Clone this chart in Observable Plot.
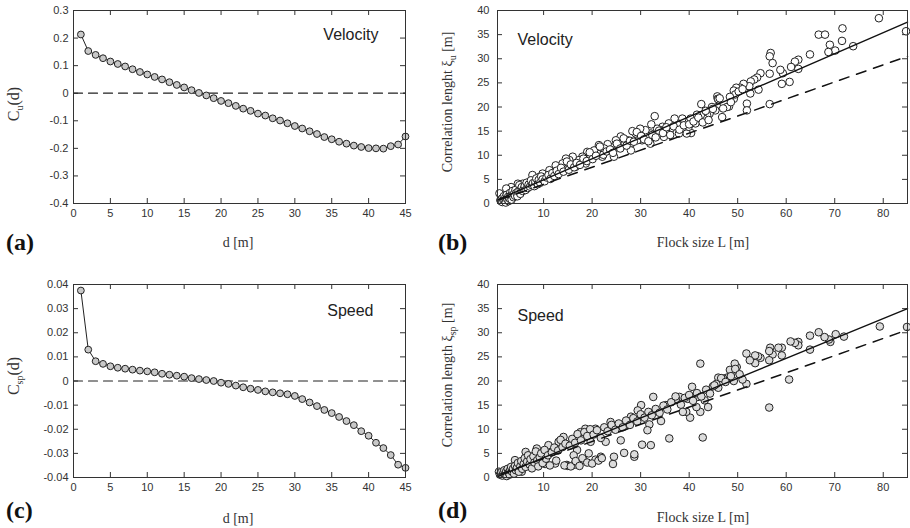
<!DOCTYPE html>
<html><head><meta charset="utf-8">
<script src="https://cdn.jsdelivr.net/npm/d3@7"></script>
<script src="https://cdn.jsdelivr.net/npm/@observablehq/plot@0.6"></script>
<style>
body{margin:0;background:#fff;}
#wrap{position:relative;width:910px;height:528px;overflow:hidden;background:#fff;}
.p{position:absolute;}
.lab{position:absolute;font-family:"Liberation Serif","Times New Roman",serif;font-size:14px;color:#333;white-space:nowrap;transform:translate(-50%,-50%);}
.ylab{transform:translate(-50%,-50%) rotate(-90deg);font-size:14px;}
.ylab.big{font-size:16px;}
.lab sub{font-size:10px;}
.tag{position:absolute;font-family:"Liberation Serif","Times New Roman",serif;font-weight:bold;font-size:24px;color:#111;transform:translate(0,-50%);}
</style></head><body><div id="wrap"></div>
<script>
// ---------- data ----------
const dVals = [1,2,3,4,5,6,7,8,9,10,11,12,13,14,15,16,17,18,19,20,21,22,23,24,25,26,27,28,29,30,31,32,33,34,35,36,37,38,39,40,41,42,43,44,45];
const cuVals = [0.213,0.153,0.139,0.127,0.115,0.106,0.097,0.087,0.077,0.068,0.059,0.050,0.040,0.030,0.021,0.011,0.001,-0.008,-0.018,-0.028,-0.036,-0.046,-0.056,-0.064,-0.074,-0.081,-0.091,-0.099,-0.109,-0.119,-0.128,-0.138,-0.148,-0.159,-0.167,-0.176,-0.183,-0.190,-0.195,-0.199,-0.200,-0.201,-0.192,-0.186,-0.157];
const cspVals = [0.0375,0.0130,0.0082,0.0071,0.0061,0.0055,0.0051,0.0047,0.0043,0.0040,0.0036,0.0030,0.0026,0.0022,0.0018,0.0012,0.0008,0.0004,0.0000,-0.0007,-0.0012,-0.0019,-0.0026,-0.0032,-0.0037,-0.0043,-0.0047,-0.0051,-0.0055,-0.0062,-0.0075,-0.0089,-0.0104,-0.0120,-0.0133,-0.0149,-0.0166,-0.0183,-0.0208,-0.0227,-0.0256,-0.0278,-0.0307,-0.0347,-0.0360];

// velocity correlation length vs flock size [L, xi]
const velPoints = [
[79.1,38.4],[84.7,35.7],[71.6,36.3],[71.5,33.7],[73.8,32.6],[69.0,32.9],[70.1,31.7],[68.7,31.4],[66.7,35.0],[68.0,35.0],
[64.9,30.9],[62.5,29.8],[61.8,29.4],[62.5,27.9],[61.0,28.3],[60.7,25.2],[59.1,24.8],[59.3,27.0],[58.8,27.7],[56.8,31.2],
[56.6,30.5],[57.2,29.1],[56.6,26.9],[56.6,20.6],[54.7,27.0],[54.0,26.1],[54.3,23.6],[53.4,25.7],[52.7,25.3],[52.4,24.3],
[52.6,22.8],[51.9,20.7],[51.9,19.3],[51.2,24.8],[50.5,24.0],[49.7,24.0],[49.2,23.4],[49.2,21.7],[49.5,22.6],[48.4,22.1],
[48.2,20.1],[47.8,20.0],[46.8,17.9],[45.8,22.2],[45.9,21.7],[45.8,20.0],[45.4,19.3],[44.7,20.0],[44.2,18.6],[43.7,18.3],
[43.0,17.6],[42.5,20.6],[42.4,18.3],[41.6,18.4],[41.3,16.6],[40.4,14.6],[39.5,14.5],[39.6,16.9],[39.9,15.9],[40.3,17.6],
[38.6,17.6],[37.5,16.4],[37.9,14.5],[37.0,17.6],[36.2,15.5],[35.8,16.6],[35.5,14.5],[34.8,13.8],[34.5,15.9],[34.1,15.2],
[33.4,15.5],[32.9,18.1],[32.2,16.4],[32.1,14.5],[32.0,12.4],[31.4,14.1],[31.0,15.2],[30.3,13.1],[29.9,15.5],[29.3,13.1],
[29.0,14.5],[28.3,15.0],[28.0,12.4],[28.0,11.0],[27.3,13.1],[26.6,12.1],[25.9,13.9],[25.5,11.7],[24.9,13.1],[24.5,9.7],
[23.8,11.7],[23.2,12.3],[22.5,11.4],[22.1,9.7],[21.4,12.1],[21.1,10.3],[20.4,11.0],[19.7,9.7],[19.0,10.7],[18.7,8.3],
[18.0,9.7],[17.3,9.0],[16.6,7.6],[16.0,9.7],[15.3,9.0],[14.6,9.3],[14.6,7.6],[13.9,8.3],[13.2,7.2],[12.5,7.9],
[11.8,6.6],[11.2,6.9],[10.5,5.9],[9.8,6.2],[9.1,5.5],[8.4,4.8],[7.7,5.9],[7.1,4.5],[6.4,3.8],[5.7,4.1],
[5.0,3.1],[4.7,4.1],[4.0,2.4],[3.3,3.4],[2.6,2.1],[2.3,3.1],[1.6,1.4],[1.1,0.7],[0.9,2.1],
[1.2,0.5],[1.4,1.0],[1.5,0.3],[1.7,0.8],[1.8,1.5],[2.0,0.6],[2.1,1.2],[2.2,0.2],[2.4,1.8],[2.5,0.9],
[2.7,1.4],[2.8,0.5],[3.0,1.0],[3.1,2.2],[3.2,1.6],[3.4,0.8],[3.5,1.9],[3.6,2.6],[3.8,1.3],[3.9,2.0],
[4.1,1.6],[4.2,2.8],[4.4,2.2],[4.6,1.5],[4.8,2.5],[5.0,3.8],[5.2,2.0],[5.3,2.9],[5.5,3.4],[5.7,2.6],
[5.9,3.0],[6.1,3.6],[6.3,2.8],[6.5,4.3],[6.7,3.2],[6.9,3.9],[7.2,3.5],[7.4,4.8],[7.6,3.8],[7.8,4.2],
[8.1,3.6],[8.3,4.5],[8.5,5.2],[8.8,4.0],[9.0,4.9],[9.3,4.3],[9.5,5.6],[9.8,5.0],[10.2,4.6],[10.6,5.4],
[11.0,5.9],[11.4,5.1],[11.8,6.3],[12.2,5.7],[12.7,6.8],[13.1,6.1],[13.6,7.4],[14.1,6.6],[14.8,8.7],[15.2,7.0],
[15.6,8.1],[16.3,7.5],[16.8,8.4],[17.5,8.0],[18.2,9.3],[18.9,8.8],[19.5,10.6],[20.1,9.2],[20.8,9.9],[21.6,11.8],
[22.3,10.1],[23.0,10.8],[23.7,11.2],[24.3,10.5],[25.1,12.4],[25.8,11.4],[26.5,13.5],[27.1,12.0],[27.8,13.0],[28.6,12.8],
[29.2,14.8],[30.1,14.0],[30.7,13.3],[31.6,12.9],[32.4,14.2],[33.1,13.7],[33.8,15.1],[34.6,14.6],[35.3,15.8],[36.1,14.2],
[36.8,16.0],[38.0,15.3],[38.9,16.2],[40.0,16.4],[40.9,17.0],[41.9,17.8],[42.8,16.8],[43.4,19.2],[44.0,17.3],[44.9,19.6],
[46.0,21.6],[46.3,21.8],[47.0,19.7],[48.6,21.0],[50.2,23.2],[51.0,23.7]
];

// speed correlation length vs flock size [L, xi]
const spdPoints = [
[79.3,31.3],[84.9,31.2],[71.9,29.2],[70.2,29.7],[69.1,28.1],[68.8,28.6],[67.9,29.1],[66.7,30.1],[64.9,29.4],[64.9,26.5],
[62.5,28.1],[62.5,27.4],[61.8,27.9],[60.9,28.2],[60.6,20.3],[59.1,26.9],[59.1,25.3],[58.4,26.9],[57.2,25.5],[56.7,26.9],
[56.5,26.2],[56.5,24.3],[56.5,14.5],[54.7,24.8],[54.2,25.1],[53.6,25.3],[53.6,23.7],[52.5,24.3],[51.8,25.7],[51.8,19.4],
[51.0,20.3],[49.8,22.9],[49.4,23.6],[49.2,20.0],[48.7,21.5],[48.4,22.3],[47.8,20.7],[47.0,20.5],[46.0,20.7],[46.0,18.6],
[45.6,19.4],[44.9,18.9],[43.9,14.6],[43.2,16.0],[42.8,8.3],[42.3,23.6],[42.3,13.6],[41.8,16.7],[41.5,14.6],[40.6,18.8],
[40.2,12.4],[39.7,16.3],[39.4,13.6],[38.7,13.6],[38.0,16.7],[37.3,16.3],[35.9,8.1],[35.2,15.0],[34.2,11.7],[32.6,16.7],
[32.1,6.7],[31.8,11.0],[31.4,9.8],[30.1,15.0],[30.3,6.8],[29.4,13.9],[28.7,4.3],[28.7,4.8],[28.0,12.6],[26.6,5.1],
[25.9,7.7],[24.5,4.3],[24.3,2.8],[23.8,11.5],[22.8,7.4],[21.8,4.3],[20.7,10.1],[20.7,3.7],[19.7,7.4],[19.3,5.0],
[18.6,10.1],[18.3,3.6],[17.6,9.4],[16.9,5.7],[16.2,4.6],[16.2,2.6],[14.8,2.6],[14.1,8.4],[13.1,7.4],[12.4,2.9],
[11.0,6.7],[10.3,2.8],[8.6,6.0],[7.6,4.3],[6.3,5.3],[5.5,1.2],[4.1,3.6],[0.8,1.2],
[1.0,0.6],[1.3,1.1],[1.5,0.4],[1.7,0.9],[1.9,1.5],[2.1,0.7],[2.3,1.3],[2.4,0.3],[2.6,1.8],[2.8,1.0],
[3.0,0.6],[3.1,1.5],[3.3,2.2],[3.5,1.2],[3.7,1.8],[3.9,0.8],[4.1,2.4],[4.3,1.5],[4.5,2.0],[4.7,3.0],
[4.9,1.2],[5.2,2.3],[5.4,3.4],[5.6,1.8],[5.9,2.8],[6.1,4.0],[6.3,2.2],[6.6,3.3],[6.8,4.6],[7.1,2.7],
[7.3,3.8],[7.6,1.9],[7.9,4.4],[8.1,3.1],[8.4,5.4],[8.7,3.6],[8.9,2.3],[9.2,4.2],[9.5,5.0],[9.8,3.0],
[10.2,5.7],[10.5,3.9],[10.9,4.6],[11.3,2.5],[11.7,5.2],[12.2,6.2],[12.6,3.5],[13.0,5.6],[13.5,7.8],[13.9,6.3],
[14.5,7.0],[15.0,2.4],[15.4,6.6],[15.9,8.0],[16.5,7.2],[17.0,9.0],[17.7,7.7],[18.4,9.4],[19.0,8.6],[19.6,10.0],
[20.3,8.9],[21.0,9.8],[21.8,8.2],[22.5,10.4],[23.2,9.6],[24.0,10.9],[24.8,9.9],[25.5,11.2],[26.3,10.4],[27.0,11.8],
[27.8,10.9],[28.5,12.3],[29.3,11.6],[30.0,13.1],[30.8,12.4],[31.6,13.6],[32.3,12.9],[33.1,14.2],[33.9,13.4],[34.7,14.9],
[35.5,14.1],[36.3,15.6],[37.2,16.8],[38.3,15.1],[39.1,16.5],[40.0,17.1],[40.8,15.9],[41.6,17.5],[42.5,16.8],[43.5,18.2],
[44.3,17.4],[45.2,19.1],[46.6,20.6],[47.5,19.8],[48.6,21.0],[49.5,22.5],[50.4,21.4],
[14.3,2.5],[15.6,2.3],[16.6,3.4],[17.4,2.4],[18.0,4.0],[19.0,3.1],[20.0,2.9],[21.3,3.5],[22.0,4.0]
];

// fitted lines (end points)
const fitL = [0.5, 85];
const velSolid = [0.75, 37.6];
const spdSolid = [0.2, 35.0];
const dashL = [1, 85];
const velDashed = [0.8, 30.5];
const spdDashed = [0.7, 30.6];

// tick values
const dTicks = [0,5,10,15,20,25,30,35,40,45];
const cuTicks = [-0.4,-0.3,-0.2,-0.1,0,0.1,0.2,0.3];
const cspTicks = [-0.04,-0.03,-0.02,-0.01,0,0.01,0.02,0.03,0.04];
const LTicks = [10,20,30,40,50,60,70,80];
const xiTicks = [0,5,10,15,20,25,30,35,40];

// ---------- drawing ----------
const INK = "#222";
function panel(o) {
  const W = 455, H = 264;
  const fw = W - o.ml - o.mr, fh = H - o.mt - o.mb, T = 5;
  return Plot.plot({
    width: W, height: H,
    marginTop: o.mt, marginBottom: o.mb, marginLeft: o.ml, marginRight: o.mr,
    x: {domain: o.xd}, y: {domain: o.yd},
    style: {fontFamily: '"Liberation Sans", Arial, sans-serif', fontSize: "11px", color: "#333", background: "transparent", overflow: "visible"},
    marks: [
      Plot.tickX(o.xt, {x: d => d, insetTop: fh - T, stroke: "#333"}),
      Plot.tickX(o.xt, {x: d => d, insetBottom: fh - T, stroke: "#333"}),
      Plot.tickY(o.yt, {y: d => d, insetRight: fw - T, stroke: "#333"}),
      Plot.tickY(o.yt, {y: d => d, insetLeft: fw - T, stroke: "#333"}),
      Plot.axisX(o.xt, {tickSize: 0, tickPadding: 6, tickFormat: o.xf, label: null}),
      Plot.axisY(o.yt, {tickSize: 0, tickPadding: o.ypad, tickFormat: o.yf, label: null}),
      ...o.marks,
      Plot.frame({stroke: "#333"})
    ]
  });
}
const fmt1 = d => d === 0 ? "0" : d.toFixed(1);
const fmt2 = d => d === 0 ? "0" : d.toFixed(2);
const fmt0 = d => String(d);

const corrVel = dVals.map((d, i) => ({d, c: cuVals[i]}));
const corrSpd = dVals.map((d, i) => ({d, c: cspVals[i]}));
const zeroLine = [{d: 0, c: 0}, {d: 45, c: 0}];

function corrMarks(data, label, dx, dy) {
  return [
    Plot.line(zeroLine, {x: "d", y: "c", stroke: INK, strokeWidth: 1.2, strokeDasharray: "9,6"}),
    Plot.line(data, {x: "d", y: "c", stroke: INK, strokeWidth: 1}),
    Plot.dot(data, {x: "d", y: "c", r: 3.4, fill: "#c8c8c8", stroke: INK, strokeWidth: 1}),
    Plot.text([label], {frameAnchor: "top-right", textAnchor: "end", dx: dx, dy: dy, fontSize: 16, fill: INK, fontFamily: '"Liberation Sans", Arial, sans-serif'})
  ];
}
function scatterMarks(points, solid, dashed, fill, label, dy) {
  const sol = fitL.map((x, i) => ({x, y: solid[i]}));
  const das = dashL.map((x, i) => ({x, y: dashed[i]}));
  return [
    Plot.dot(points, {x: d => d[0], y: d => d[1], r: 3.8, fill: fill, stroke: INK, strokeWidth: 1}),
    Plot.line(sol, {x: "x", y: "y", stroke: "#111", strokeWidth: 1.4}),
    Plot.line(das, {x: "x", y: "y", stroke: "#111", strokeWidth: 1.5, strokeDasharray: "10,8"}),
    Plot.text([label], {frameAnchor: "top-left", textAnchor: "start", dx: 20, dy: dy, fontSize: 16, fill: INK, fontFamily: '"Liberation Sans", Arial, sans-serif'})
  ];
}

const wrap = document.getElementById("wrap");
function place(el, left, top) { el.classList.add("p"); el.style.left = left + "px"; el.style.top = top + "px"; wrap.appendChild(el); }

place(panel({xd: [0, 45], yd: [-0.4, 0.3], xt: dTicks, yt: cuTicks, xf: fmt0, yf: fmt1, ml: 73, mr: 50, mt: 10, mb: 61, ypad: 5,
  marks: corrMarks(corrVel, "Velocity", -27, 18)}), 0, 0);
place(panel({xd: [0.5, 85], yd: [0, 40], xt: LTicks, yt: xiTicks, xf: fmt0, yf: fmt0, ml: 42, mr: 3, mt: 10, mb: 61, ypad: 8,
  marks: scatterMarks(velPoints, velSolid, velDashed, "#ffffff", "Velocity", 23)}), 455, 0);
place(panel({xd: [0, 45], yd: [-0.04, 0.04], xt: dTicks, yt: cspTicks, xf: fmt0, yf: fmt2, ml: 73, mr: 50, mt: 20, mb: 51, ypad: 5,
  marks: corrMarks(corrSpd, "Speed", -32, 20)}), 0, 264);
place(panel({xd: [0.5, 85], yd: [0, 40], xt: LTicks, yt: xiTicks, xf: fmt0, yf: fmt0, ml: 42, mr: 3, mt: 20, mb: 51, ypad: 8,
  marks: scatterMarks(spdPoints, spdSolid, spdDashed, "#dcdcdc", "Speed", 25)}), 455, 264);

// ---------- text labels ----------
function lab(html, x, y, cls) {
  const e = document.createElement("div");
  e.className = cls; e.innerHTML = html;
  e.style.left = x + "px"; e.style.top = y + "px";
  wrap.appendChild(e);
}
lab("C<sub>u</sub>(d)", 15, 104, "lab ylab big");
lab("Correlation lenght &xi;<sub>u</sub> [m]", 449, 102, "lab ylab");
lab("C<sub>sp</sub>(d)", 15, 376, "lab ylab big");
lab("Correlation length &xi;<sub>sp</sub> [m]", 449, 375, "lab ylab");
lab("d [m]", 238, 243, "lab");
lab("Flock size L [m]", 703, 243, "lab");
lab("d [m]", 238, 519, "lab");
lab("Flock size L [m]", 703, 518, "lab");
lab("(a)", 6, 242, "tag");
lab("(b)", 438, 242, "tag");
lab("(c)", 6, 510, "tag");
lab("(d)", 438, 510, "tag");
</script>
</body></html>
